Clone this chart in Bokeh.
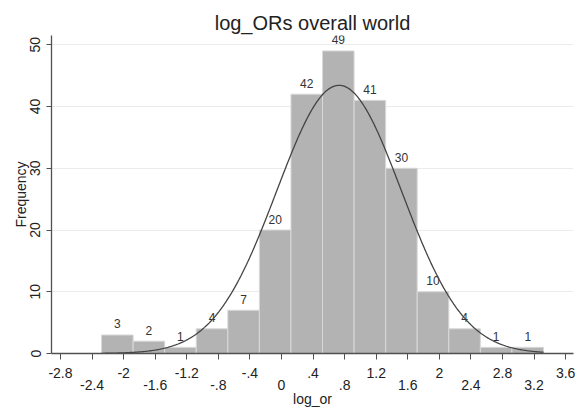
import numpy as np
from bokeh.plotting import figure
from bokeh.models import LinearAxis, FixedTicker, Range1d
from bokeh.core.properties import value
from bokeh.embed import file_html
from bokeh.resources import INLINE

# ---- data ----
bin_edges = [-2.28, -1.88, -1.48, -1.08, -0.68, -0.28, 0.12, 0.52, 0.92,
             1.32, 1.72, 2.12, 2.52, 2.92, 3.32]
counts = [3, 2, 1, 4, 7, 20, 42, 49, 41, 30, 10, 4, 1, 1]
normal_mean = 0.73
normal_sd = 0.79

x_ticks = [-2.8, -2.4, -2.0, -1.6, -1.2, -0.8, -0.4, 0.0, 0.4, 0.8,
           1.2, 1.6, 2.0, 2.4, 2.8, 3.2, 3.6]
x_tick_labels = ["-2.8", "-2.4", "-2", "-1.6", "-1.2", "-.8", "-.4", "0", ".4", ".8",
                 "1.2", "1.6", "2", "2.4", "2.8", "3.2", "3.6"]
y_ticks = [0, 10, 20, 30, 40, 50]

FONT = "Liberation Sans"
TXT = "#222222"
AX = "#505050"

p = figure(width=576, height=409,
           x_range=Range1d(-2.914, 3.70), y_range=Range1d(0, 51.5),
           output_backend="svg", toolbar_location=None,
           min_border_left=51, min_border_right=3, min_border_top=35,
           min_border_bottom=56,
           title="log_ORs overall world")
p.title.text_font = FONT
p.title.text_font_size = "20px"
p.title.text_font_style = "normal"
p.title.text_color = TXT
p.title.align = "center"
p.title.standoff = 3
p.outline_line_color = None
p.background_fill_color = "white"
p.border_fill_color = "white"

# bars
lefts = bin_edges[:-1]
rights = bin_edges[1:]
p.quad(left=lefts, right=rights, bottom=0, top=counts,
       fill_color="#b3b3b3", line_color="#d9d9d9", line_width=1)

# bar labels
centers = [(a + b) / 2 for a, b in zip(lefts, rights)]
p.text(x=centers, y=counts, text=[str(c) for c in counts],
       text_align="center", text_baseline="middle", y_offset=-11,
       text_font=value(FONT), text_font_size="12px", text_color="#333333")

# normal density overlay
n_obs = sum(counts)
bw = bin_edges[1] - bin_edges[0]
xs = np.linspace(bin_edges[0], bin_edges[-1], 400)
ys = n_obs * bw * np.exp(-0.5 * ((xs - normal_mean) / normal_sd) ** 2) / (normal_sd * np.sqrt(2 * np.pi))
p.line(xs, ys, line_color="#444444", line_width=1.3)

# grid
p.xgrid.visible = False
p.ygrid.ticker = FixedTicker(ticks=y_ticks)
p.ygrid.grid_line_color = "#ebebeb"

# y axis
ya = p.yaxis[0]
ya.ticker = FixedTicker(ticks=y_ticks)
ya.major_label_orientation = "vertical"
ya.axis_label = "Frequency"
ya.axis_label_text_font = FONT
ya.axis_label_text_font_size = "14px"
ya.axis_label_text_font_style = "normal"
ya.axis_label_text_color = TXT
ya.axis_label_standoff = -1
ya.major_label_text_font = FONT
ya.major_label_text_font_size = "14px"
ya.major_label_text_color = TXT
ya.major_label_standoff = 6
ya.major_tick_out = 5
ya.major_tick_in = 0
ya.minor_tick_out = 0
ya.minor_tick_in = 0
ya.axis_line_color = AX
ya.major_tick_line_color = AX
ya.axis_line_width = 1.3

# x axis (upper row of labels + all ticks)
xa = p.xaxis[0]
xa.ticker = FixedTicker(ticks=x_ticks)
xa.major_label_overrides = {t: (lab if i % 2 == 0 else "") for i, (t, lab) in enumerate(zip(x_ticks, x_tick_labels))}
xa.major_label_text_font = FONT
xa.major_label_text_font_size = "14px"
xa.major_label_text_color = TXT
xa.major_label_standoff = 8
xa.major_tick_out = 6
xa.major_tick_in = 0
xa.minor_tick_out = 0
xa.minor_tick_in = 0
xa.axis_line_color = AX
xa.major_tick_line_color = AX
xa.axis_line_width = 1.3

# x axis (lower row of labels)
lower_ticks = [t for i, t in enumerate(x_ticks) if i % 2 == 1]
xa2 = LinearAxis(ticker=FixedTicker(ticks=lower_ticks))
xa2.major_label_overrides = {t: lab for i, (t, lab) in enumerate(zip(x_ticks, x_tick_labels)) if i % 2 == 1}
xa2.axis_line_color = None
xa2.major_tick_line_color = None
xa2.minor_tick_line_color = None
xa2.major_tick_out = 0
xa2.major_tick_in = 0
xa2.minor_tick_out = 0
xa2.minor_tick_in = 0
xa2.major_label_standoff = -1
xa2.major_label_text_font = FONT
xa2.major_label_text_font_size = "14px"
xa2.major_label_text_color = TXT
xa2.axis_label = "log_or"
xa2.axis_label_text_font = FONT
xa2.axis_label_text_font_size = "14px"
xa2.axis_label_text_font_style = "normal"
xa2.axis_label_text_color = TXT
xa2.axis_label_standoff = -2
p.add_layout(xa2, "below")

open("out.html", "w").write(file_html(p, INLINE))
